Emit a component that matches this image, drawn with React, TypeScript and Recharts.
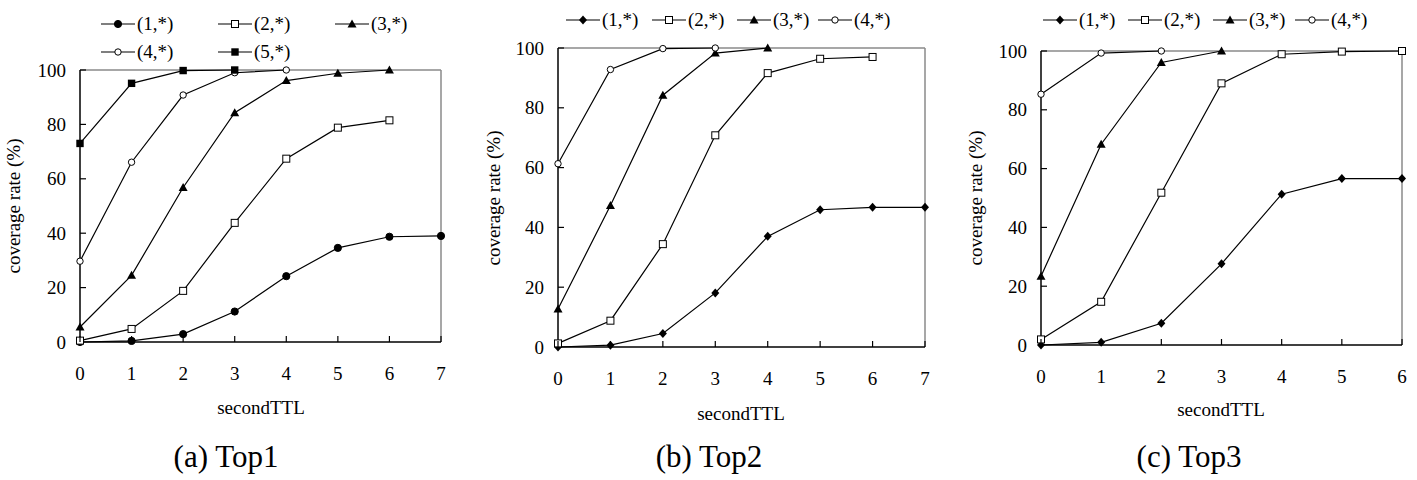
import React from "react"
import { LineChart, Line, XAxis, YAxis, ReferenceLine } from "recharts"

// x values (secondTTL) and y ticks
const secondTTL = [0, 1, 2, 3, 4, 5, 6, 7]
const yTicks = [0, 20, 40, 60, 80, 100]
const seriesNamesA = ["(1,*)", "(2,*)", "(3,*)", "(4,*)", "(5,*)"]
const seriesNamesBC = ["(1,*)", "(2,*)", "(3,*)", "(4,*)"]

// (a) Top1
const top1_s1 = [0, 0.4, 2.9, 11.2, 24.2, 34.6, 38.7, 39.0]
const top1_s2 = [0.5, 4.8, 18.8, 43.8, 67.4, 78.8, 81.5]
const top1_s3 = [5.5, 24.5, 56.8, 84.3, 96.1, 98.8, 100]
const top1_s4 = [29.7, 66.1, 90.8, 99.0, 100]
const top1_s5 = [73, 95.1, 99.8, 100]

// (b) Top2
const top2_s1 = [0, 0.6, 4.5, 18.1, 37.0, 45.9, 46.7, 46.7]
const top2_s2 = [1.2, 8.8, 34.4, 70.8, 91.6, 96.4, 97.0]
const top2_s3 = [12.7, 47.3, 84.2, 98.3, 100]
const top2_s4 = [61.3, 92.8, 99.8, 100]

// (c) Top3
const top3_s1 = [0, 0.9, 7.4, 27.6, 51.3, 56.6, 56.6]
const top3_s2 = [1.9, 14.7, 51.8, 89.0, 98.9, 99.8, 100]
const top3_s3 = [23.4, 68.3, 96.1, 100]
const top3_s4 = [85.3, 99.3, 100]

const FONT = '"Liberation Serif", "Times New Roman", serif'

type MarkerKind = "dot" | "square" | "triangle" | "circle" | "fsquare" | "diamond"

function Marker({ kind, cx, cy }: { kind: MarkerKind; cx: number; cy: number }) {
  switch (kind) {
    case "dot":
      return <circle cx={cx} cy={cy} r={3.6} fill="#000" stroke="#000" />
    case "circle":
      return <circle cx={cx} cy={cy} r={3.2} fill="#fff" stroke="#000" strokeWidth={1} />
    case "square":
      return <rect x={cx - 3.5} y={cy - 3.5} width={7} height={7} fill="#fff" stroke="#000" strokeWidth={1} />
    case "fsquare":
      return <rect x={cx - 3.7} y={cy - 3.7} width={7.4} height={7.4} fill="#000" />
    case "triangle":
      return <path d={`M${cx},${cy - 4.5} L${cx + 4.5},${cy + 3.5} L${cx - 4.5},${cy + 3.5} Z`} fill="#000" />
    case "diamond":
      return <path d={`M${cx},${cy - 4.5} L${cx + 4},${cy} L${cx},${cy + 4.5} L${cx - 4},${cy} Z`} fill="#000" />
  }
  return null
}

interface Series {
  name: string
  values: number[]
  marker: MarkerKind
}

interface PanelProps {
  left: number
  width: number
  plotLeft: number
  plotRight: number
  plotTop: number
  plotBottom: number
  xMax: number
  series: Series[]
  legend: { x: number; y: number }[]
  yTitleX: number
  xTitle: { x: number; y: number }
  caption: string
  captionX: number
}

function LegendItem({ s, x, y }: { s: Series; x: number; y: number }) {
  return (
    <div style={{ position: "absolute", left: x, top: y - 11, height: 22, display: "flex", alignItems: "center", whiteSpace: "nowrap" }}>
      <svg width={34} height={12} style={{ display: "block" }}>
        <line x1={0} x2={34} y1={6} y2={6} stroke="#000" strokeWidth={1.2} />
        <Marker kind={s.marker} cx={17} cy={6} />
      </svg>
      <span style={{ fontFamily: FONT, fontSize: 19, marginLeft: 2, color: "#000" }}>{s.name}</span>
    </div>
  )
}

function Panel(p: PanelProps) {
  const height = 480
  const xAxisHeight = 20
  const xTicks = secondTTL.filter(v => v <= p.xMax)

  const XTick = (props: any) => {
    const { x, y, payload } = props
    return (
      <g>
        <line x1={x} x2={x} y1={y} y2={y - 6} stroke="#000" strokeWidth={1.2} />
        <text x={x} y={y + 31} textAnchor="middle" dominantBaseline="central" fontFamily={FONT} fontSize={19} fill="#000">
          {payload.value}
        </text>
      </g>
    )
  }

  const YTick = (props: any) => {
    const { x, y, payload } = props
    return (
      <g>
        {payload.value !== 0 && <line x1={x} x2={x + 6} y1={y} y2={y} stroke="#000" strokeWidth={1.2} />}
        <text x={x - 14} y={y} textAnchor="end" dominantBaseline="central" fontFamily={FONT} fontSize={19} fill="#000">
          {payload.value}
        </text>
      </g>
    )
  }

  return (
    <div style={{ position: "absolute", left: p.left, top: 0, width: p.width, height }}>
      <LineChart
        width={p.width}
        height={height}
        margin={{
          top: p.plotTop,
          right: p.width - p.plotRight,
          bottom: height - p.plotBottom - xAxisHeight,
          left: 0,
        }}
      >
        <XAxis
          type="number"
          dataKey="x"
          domain={[0, p.xMax]}
          ticks={xTicks}
          height={xAxisHeight}
          axisLine={{ stroke: "#000", strokeWidth: 1.5 }}
          tickLine={false}
          tickSize={0}
          tickMargin={0}
          tick={XTick}
          interval={0}
          allowDuplicatedCategory={false}
        />
        <YAxis
          type="number"
          domain={[0, 100]}
          ticks={yTicks}
          width={p.plotLeft}
          axisLine={{ stroke: "#000", strokeWidth: 1.5 }}
          tickLine={false}
          tickSize={0}
          tickMargin={0}
          tick={YTick}
          interval={0}
        />
        <ReferenceLine y={100} stroke="#8a8a8a" strokeWidth={1.5} />
        <ReferenceLine x={p.xMax} stroke="#8a8a8a" strokeWidth={1.5} />
        {p.series.map(s => (
          <Line
            key={s.name}
            data={s.values.map((v, i) => ({ x: secondTTL[i], y: v }))}
            dataKey="y"
            type="linear"
            stroke="#000"
            strokeWidth={1.2}
            isAnimationActive={false}
            dot={(d: any) => <Marker key={`${s.name}-${d.index}`} kind={s.marker} cx={d.cx} cy={d.cy} />}
            activeDot={false}
          />
        ))}
      </LineChart>

      {p.series.map((s, i) => (
        <LegendItem key={s.name} s={s} x={p.legend[i].x} y={p.legend[i].y} />
      ))}

      <div
        style={{
          position: "absolute",
          left: p.yTitleX,
          top: (p.plotTop + p.plotBottom) / 2,
          transform: "translate(-50%, -50%) rotate(-90deg)",
          fontFamily: FONT,
          fontSize: 19,
          whiteSpace: "nowrap",
        }}
      >
        coverage rate (%)
      </div>
      <div
        style={{
          position: "absolute",
          left: p.xTitle.x,
          top: p.xTitle.y,
          transform: "translate(-50%, -50%)",
          fontFamily: FONT,
          fontSize: 19,
          whiteSpace: "nowrap",
        }}
      >
        secondTTL
      </div>
      <div
        style={{
          position: "absolute",
          left: p.captionX,
          top: 457,
          transform: "translate(-50%, -50%)",
          fontFamily: FONT,
          fontSize: 31,
          whiteSpace: "nowrap",
        }}
      >
        {p.caption}
      </div>
    </div>
  )
}

export default function App() {
  const seriesA: Series[] = [
    { name: seriesNamesA[0], values: top1_s1, marker: "dot" },
    { name: seriesNamesA[1], values: top1_s2, marker: "square" },
    { name: seriesNamesA[2], values: top1_s3, marker: "triangle" },
    { name: seriesNamesA[3], values: top1_s4, marker: "circle" },
    { name: seriesNamesA[4], values: top1_s5, marker: "fsquare" },
  ]
  const seriesB: Series[] = [
    { name: seriesNamesBC[0], values: top2_s1, marker: "diamond" },
    { name: seriesNamesBC[1], values: top2_s2, marker: "square" },
    { name: seriesNamesBC[2], values: top2_s3, marker: "triangle" },
    { name: seriesNamesBC[3], values: top2_s4, marker: "circle" },
  ]
  const seriesC: Series[] = [
    { name: seriesNamesBC[0], values: top3_s1, marker: "diamond" },
    { name: seriesNamesBC[1], values: top3_s2, marker: "square" },
    { name: seriesNamesBC[2], values: top3_s3, marker: "triangle" },
    { name: seriesNamesBC[3], values: top3_s4, marker: "circle" },
  ]

  return (
    <div style={{ position: "absolute", left: 0, top: 0, width: 1417, height: 480, background: "#fff", overflow: "hidden" }}>
      <Panel
        left={0}
        width={470}
        plotLeft={80}
        plotRight={441}
        plotTop={70}
        plotBottom={342}
        xMax={7}
        series={seriesA}
        legend={[
          { x: 101, y: 24 },
          { x: 218, y: 24 },
          { x: 335, y: 24 },
          { x: 101, y: 52 },
          { x: 218, y: 52 },
        ]}
        yTitleX={14}
        xTitle={{ x: 261, y: 408 }}
        caption="(a) Top1"
        captionX={226}
      />
      <Panel
        left={470}
        width={470}
        plotLeft={88}
        plotRight={455}
        plotTop={48}
        plotBottom={347}
        xMax={7}
        series={seriesB}
        legend={[
          { x: 96, y: 20 },
          { x: 182, y: 20 },
          { x: 267, y: 20 },
          { x: 348, y: 20 },
        ]}
        yTitleX={24}
        xTitle={{ x: 271, y: 414 }}
        caption="(b) Top2"
        captionX={239}
      />
      <Panel
        left={940}
        width={477}
        plotLeft={101}
        plotRight={462}
        plotTop={51}
        plotBottom={345}
        xMax={6}
        series={seriesC}
        legend={[
          { x: 103, y: 20 },
          { x: 188, y: 20 },
          { x: 273, y: 20 },
          { x: 355, y: 20 },
        ]}
        yTitleX={36}
        xTitle={{ x: 281, y: 410 }}
        caption="(c) Top3"
        captionX={249}
      />
    </div>
  )
}
